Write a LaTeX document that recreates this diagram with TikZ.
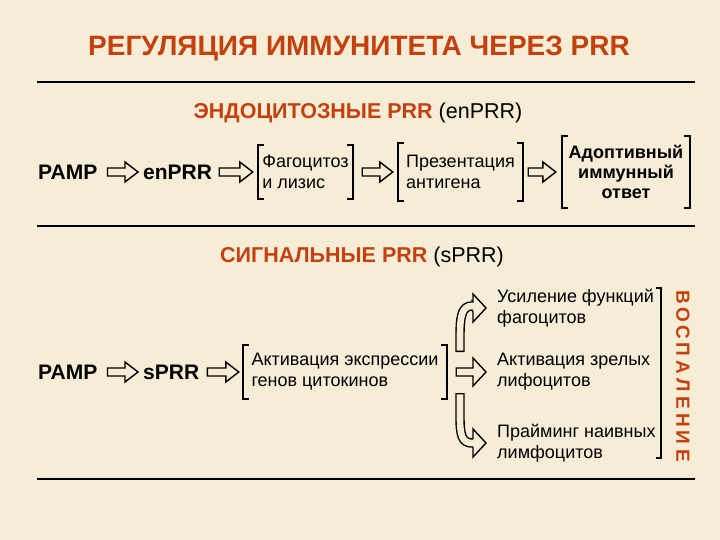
\documentclass[tikz,border=0pt]{standalone}
\usepackage{fontspec}
\setmainfont{Liberation Sans}
\usetikzlibrary{calc}
\definecolor{bg}{HTML}{F7ECD6}
\definecolor{rust}{HTML}{C3410F}
% square brackets round a block node
\newcommand\brk[1]{%
  \draw[brack] ([xshift=6pt]#1.north west) -- (#1.north west) -- (#1.south west) -- ++(6,0);
  \draw[brack] ([xshift=-6pt]#1.north east) -- (#1.north east) -- (#1.south east) -- ++(-6,0);}
\tikzset{
  brack/.style={line width=1.7pt},
  lbl/.style={font=\fontsize{21}{25}\selectfont\bfseries, anchor=west, inner sep=0pt},
  blk/.style={align=left, font=\fontsize{18}{21}\selectfont, inner sep=0pt},
  txt/.style={align=left, font=\fontsize{18}{21}\selectfont, anchor=west, inner sep=0pt},
  hollow/.style={draw, fill=bg, line width=1.4pt, line join=miter,
    to path={($(\tikztostart)+(0,-4)$) -- ($(\tikztotarget)+(-13,-4)$)
      -- ($(\tikztotarget)+(-13,-#1)$) -- (\tikztotarget)
      -- ($(\tikztotarget)+(-13,#1)$) -- ($(\tikztotarget)+(-13,4)$)
      -- ($(\tikztostart)+(0,4)$) -- cycle}},
  hollow/.default=10,
  bandout/.style={line width=9.4pt},
  bandin/.style={bg, line width=6.6pt, shorten <=1.4pt}
}
\begin{document}
\begin{tikzpicture}[x=1pt,y=-1pt]
\useasboundingbox (0,0) rectangle (720,540);
\fill[bg] (0,0) rectangle (720,540);
\node[font=\fontsize{28}{32}\selectfont\bfseries, text=rust] (title) at (359,49) {РЕГУЛЯЦИЯ ИММУНИТЕТА ЧЕРЕЗ PRR};
\draw[line width=1.5pt] (37,82) -- (695,82);
\draw[line width=1.5pt] (37,226) -- (695,226);
\draw[line width=1.5pt] (37,479) -- (695,479);
\node[font=\fontsize{21.5}{25}\selectfont] (hdr1) at (358,113) {\textcolor{rust}{\bfseries ЭНДОЦИТОЗНЫЕ PRR} (enPRR)};
\node[font=\fontsize{21.5}{25}\selectfont] (hdr2) at (362,257) {\textcolor{rust}{\bfseries СИГНАЛЬНЫЕ PRR} (sPRR)};

% endocytic row
\node[lbl] (pamp1) at (38,172) {PAMP};
\node[lbl] (enprr) at (143,172) {enPRR};
\node[blk, minimum width=95, minimum height=53] (fag) at (305.5,172) {Фагоцитоз\\и лизис};
\node[blk, minimum width=125, minimum height=58] (prez) at (460.5,172) {Презентация\\антигена};
\node[blk, align=center, font=\fontsize{18}{20}\selectfont\bfseries, minimum width=128, minimum height=72] (adop) at (626,172) {Адоптивный\\иммунный\\ответ};
\brk{fag} \brk{prez} \brk{adop}
\draw[hollow] ([xshift=10pt]pamp1.east) to ([xshift=-5pt]enprr.west);
\draw[hollow] ([xshift=7pt]enprr.east) to ([xshift=-5pt]fag.west);
\draw[hollow] ([xshift=9pt]fag.east) to ([xshift=-5pt]prez.west);
\draw[hollow] ([xshift=5pt]prez.east) to ([xshift=-6pt]adop.west);

% signalling row
\node[lbl] (pamp2) at (38,372) {PAMP};
\node[lbl] (sprr) at (143,372) {sPRR};
\node[blk, minimum width=204, minimum height=53] (act) at (345,372) {Активация экспрессии\\генов цитокинов};
\brk{act}
\draw[hollow] ([xshift=10pt]pamp2.east) to ([xshift=-5pt]sprr.west);
\draw[hollow] ([xshift=8pt]sprr.east) to ([xshift=-4pt]act.west);

\node[txt] (usil) at (497,308) {Усиление функций\\фагоцитов};
\node[txt] (aktz) at (497,372) {Активация зрелых\\лифоцитов};
\node[txt] (praim) at (497,443) {Прайминг наивных\\лимфоцитов};

\coordinate (u0) at (460,352);
\coordinate (u1) at (472,306);
\coordinate (d0) at (460,393);
\coordinate (d1) at (472,443);
\draw[bandout] (u0) -- ++(0,-16) .. controls +(0,-20) and +(-10,0) .. (u1);
\draw[hollow=14] (u1) to ([xshift=-11pt]usil.west);
\draw[bandin] (u0) -- ++(0,-16) .. controls +(0,-20) and +(-10,0) .. (u1) -- ++(3,0);
\draw[hollow=14] ([xshift=9pt]act.east) to ([xshift=-11pt]aktz.west);
\draw[bandout] (d0) -- ++(0,24) .. controls +(0,18) and +(-10,0) .. (d1);
\draw[hollow=14] (d1) to ([xshift=-11pt]praim.west);
\draw[bandin] (d0) -- ++(0,24) .. controls +(0,18) and +(-10,0) .. (d1) -- ++(3,0);

% inflammation
\draw[brack] (656,288) -- (661,288) -- (661,458) -- (656,458);
\foreach \l [count=\i from 0] in {В,О,С,П,А,Л,Е,Н,И,Е}
  \node[rotate=-90, text=rust, font=\fontsize{19}{22}\selectfont\bfseries, inner sep=0pt] (v\i) at (683,297+17.6*\i) {\l};
\end{tikzpicture}
\end{document}
